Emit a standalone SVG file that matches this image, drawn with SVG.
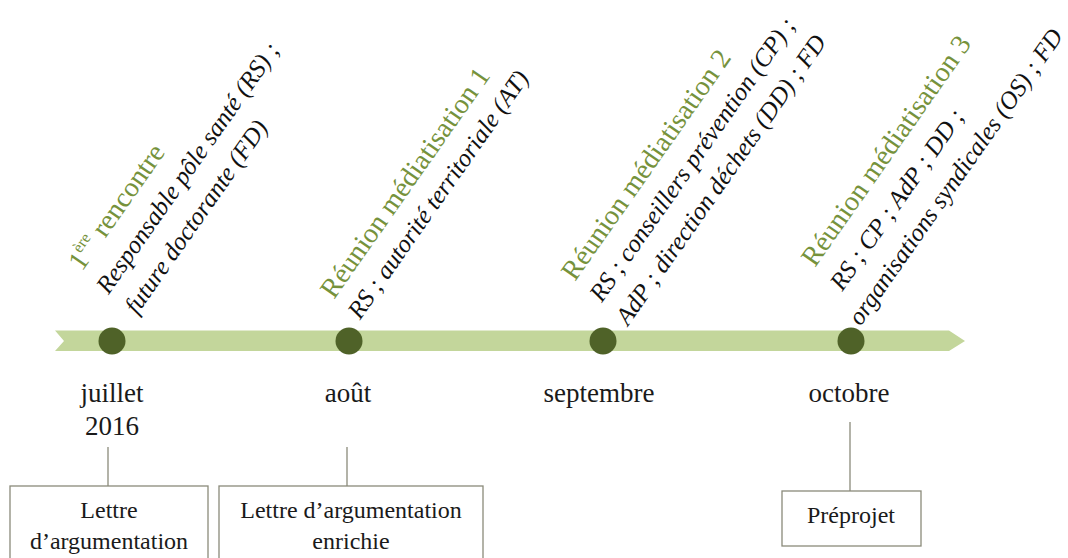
<svg xmlns="http://www.w3.org/2000/svg" width="1068" height="558" viewBox="0 0 1068 558">
<style>
.ttl{font-family:"Liberation Serif",serif;font-size:28px;fill:#76923c}
.it{font-family:"Liberation Serif",serif;font-size:25px;font-style:italic;fill:#111}
.month{font-family:"Liberation Serif",serif;font-size:27px;fill:#1a1a1a;text-anchor:middle}
.btxt{font-family:"Liberation Serif",serif;font-size:24px;fill:#1a1a1a;text-anchor:middle}
.dot{fill:#4f6228}
.box{fill:#fff;stroke:#8a8a7a;stroke-width:1.3}
.conn{stroke:#8a8a7a;stroke-width:1.3;fill:none}
</style>
<rect width="1068" height="558" fill="#fff"/>
<g id="band">
<polygon points="55,330.5 949,330.5 965,341 949,351 55,351 64,341" fill="#c3d69b"/>
</g>
<g id="connectors">
<line class="conn" x1="108" y1="447" x2="108" y2="486"/>
<line class="conn" x1="347" y1="447" x2="347" y2="486"/>
<line class="conn" x1="850" y1="422" x2="850" y2="491"/>
</g>
<g id="node-juillet">
<circle class="dot" cx="112" cy="341" r="13.5"/>
<text class="month" x="112" y="402">juillet</text>
<text class="month" x="112" y="435">2016</text>
<g transform="translate(82,272) rotate(-55)">
<text class="ttl" x="0" y="0">1<tspan font-size="16" dy="-12">ère</tspan><tspan dy="12"> rencontre</tspan></text>
<text class="it" x="-4" y="35">Responsable pôle santé (RS) ;</text>
<text class="it" x="-4" y="70">future doctorante (FD)</text>
</g>
</g>
<g id="node-aout">
<circle class="dot" cx="349" cy="341" r="13.5"/>
<text class="month" x="348" y="402">août</text>
<g transform="translate(334,300) rotate(-55)">
<text class="ttl" x="0" y="0">Réunion médiatisation 1</text>
<text class="it" x="-2" y="33">RS ; autorité territoriale (AT)</text>
</g>
</g>
<g id="node-septembre">
<circle class="dot" cx="603" cy="341" r="13.5"/>
<text class="month" x="599" y="402">septembre</text>
<g transform="translate(575,282) rotate(-55)">
<text class="ttl" x="0" y="0">Réunion médiatisation 2</text>
<text class="it" x="-2" y="34">RS ; conseillers prévention (CP) ;</text>
<text class="it" x="-6" y="69">AdP ; direction déchets (DD) ; FD</text>
</g>
</g>
<g id="node-octobre">
<circle class="dot" cx="851" cy="341" r="13.5"/>
<text class="month" x="849" y="402">octobre</text>
<g transform="translate(815,268) rotate(-55)">
<text class="ttl" x="0" y="0">Réunion médiatisation 3</text>
<text class="it" x="-4" y="36">RS ; CP ; AdP ; DD ;</text>
<text class="it" x="-22" y="71" font-size="18.5">organisations syndicales (OS) ; FD</text>
</g>
</g>
<g id="box-lettre">
<rect class="box" x="10" y="486" width="198" height="80"/>
<text class="btxt" x="109" y="518">Lettre</text>
<text class="btxt" x="109" y="549">d’argumentation</text>
</g>
<g id="box-lettre-enrichie">
<rect class="box" x="219" y="486" width="264" height="80"/>
<text class="btxt" x="351" y="518">Lettre d’argumentation</text>
<text class="btxt" x="351" y="549">enrichie</text>
</g>
<g id="box-preprojet">
<rect class="box" x="782" y="491" width="139" height="55"/>
<text class="btxt" x="851" y="523">Préprojet</text>
</g>
</svg>
